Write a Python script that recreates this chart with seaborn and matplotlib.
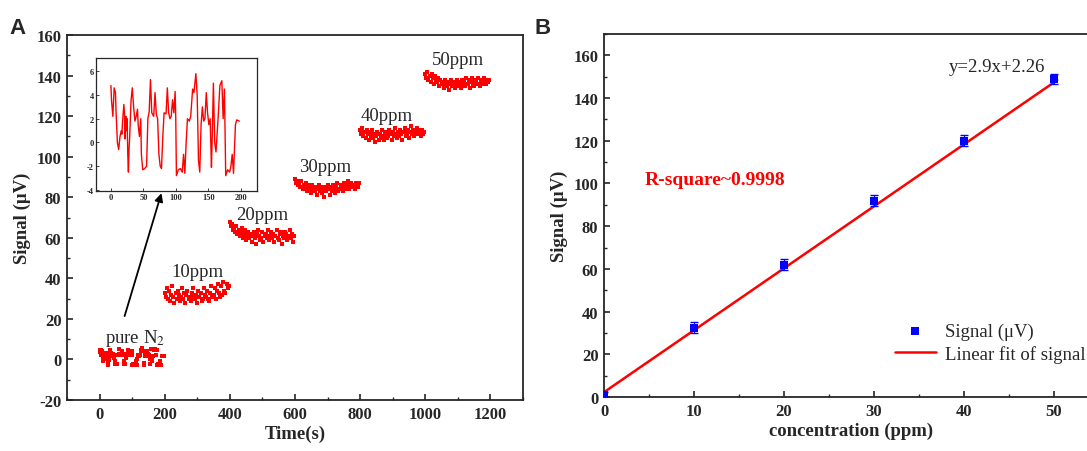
import numpy as np
import pandas as pd
import matplotlib
matplotlib.use('Agg')
import matplotlib.pyplot as plt
import seaborn as sns

# pure N2 trace
n2_time = [0, 1, 3, 5, 7, 8, 10, 12, 14, 16, 17, 18, 20, 21, 22, 23, 24, 25, 26, 27,
           28, 29, 31, 33, 35, 37, 39, 41, 42, 44, 46, 47, 49, 52, 55, 57, 59, 61, 63, 66,
           68, 70, 72, 74, 76, 78, 80, 82, 85, 87, 89, 91, 93, 95, 97, 99, 100, 101, 104, 107,
           110, 112, 114, 116, 118, 121, 123, 126, 128, 131, 133, 135, 137, 139, 141, 143, 145, 147, 149, 151,
           153, 155, 156, 158, 160, 162, 165, 168, 171, 173, 175, 177, 180, 183, 185, 187, 189, 192, 194, 198]
n2_signal = [4.8, 3.5, 2.2, 4.6, 4.2, 2.5, 0.0, -0.6, 0.5, 1.0, 0.7, 1.8, 3.2, 2.4, 0.3, 2.2, 1.0, 2.0, -1.0, -2.5,
             -0.5, 0.5, 3.5, 4.6, 3.0, 1.8, 2.2, 2.8, 1.5, 0.5, 2.0, -1.0, -2.3, -2.2, -2.0, 2.0, 2.6, 5.3, 2.5, 2.2,
             4.2, 2.4, 2.0, -1.0, -2.0, -2.2, 0.5, 2.5, 2.4, 4.6, 2.5, 2.0, 2.2, 3.6, 2.5, 4.3, 2.0, -2.8, -2.3, -2.2,
             -2.5, -1.0, -2.6, 0.0, 2.0, 1.8, 2.2, 4.5, 4.2, 5.8, 4.0, -1.5, -2.5, 1.5, 3.0, 1.8, 2.0, 4.2, 2.5, 1.5,
             2.0, -2.1, 0.0, 5.0, 0.0, -0.8, 1.8, 4.8, 5.2, 2.0, 4.5, -2.8, -2.3, -2.5, -2.0, -1.0, -2.6, 1.5, 1.9, 1.8]

seg_10 = [33, 31, 35, 30, 34, 29, 32, 36, 31, 28, 33, 30, 34, 32, 29, 31, 35, 30, 33, 28,
          32, 34, 30, 31, 29, 33, 35, 31, 30, 32, 28, 34, 31, 33, 29, 30, 35, 32, 31, 34,
          30, 29, 33, 36, 31, 32, 35, 30, 34, 37, 33, 31, 36, 32, 38, 34, 33, 37, 35, 36]
seg_20 = [68, 66, 67, 64, 65, 63, 66, 62, 64, 61, 63, 65, 60, 62, 64, 59, 61, 63, 60, 62,
          58, 61, 63, 60, 57, 62, 64, 61, 59, 60, 63, 58, 61, 62, 60, 64, 59, 61, 63, 60,
          62, 58, 61, 64, 60, 59, 62, 63, 57, 61, 60, 63, 62, 59, 61, 64, 60, 62, 58, 61]
seg_30 = [89, 87, 88, 86, 87, 85, 88, 84, 86, 85, 87, 83, 86, 84, 85, 82, 86, 84, 83, 85,
          81, 84, 86, 83, 85, 82, 84, 80, 85, 83, 86, 84, 81, 85, 83, 86, 84, 82, 85, 87,
          83, 84, 86, 85, 83, 87, 84, 86, 85, 88, 84, 86, 87, 85, 86, 84, 87, 86, 85, 87]
seg_40 = [113, 111, 114, 110, 112, 109, 113, 111, 108, 112, 110, 113, 109, 111, 107, 110, 112, 108, 111, 109,
          113, 110, 108, 111, 112, 109, 110, 113, 111, 108, 112, 110, 114, 111, 109, 112, 110, 113, 111, 108,
          112, 114, 110, 111, 113, 109, 112, 115, 111, 113, 110, 112, 114, 111, 113, 112, 110, 113, 111, 112]
seg_50 = [141, 139, 142, 138, 140, 137, 141, 139, 136, 140, 138, 137, 139, 135, 138, 136, 137, 134, 138, 136,
          135, 137, 133, 136, 138, 135, 137, 134, 136, 138, 135, 137, 136, 134, 138, 136, 137, 135, 139, 136,
          138, 134, 137, 139, 136, 135, 138, 137, 136, 139, 135, 137, 138, 136, 139, 137, 136, 138, 137, 138]
seg_starts = [200, 400, 600, 800, 1000]

seg_labels = ['pure N$_2$', '10ppm', '20ppm', '30ppm', '40ppm', '50ppm']
label_x = [108, 300, 500, 692, 883, 1100]
label_y = [8.6, 41, 69.5, 93, 118, 145.5]

# panel B
conc = [0, 10, 20, 30, 40, 50]
signal_mean = [1.0, 32.5, 62.0, 92.0, 120.0, 149.0]
signal_err = [1.5, 2.5, 2.5, 2.5, 2.5, 2.5]
fit_slope, fit_icpt = 2.9, 2.26

frames = [pd.DataFrame({'t': n2_time, 's': n2_signal})]
for start, vals in zip(seg_starts, [seg_10, seg_20, seg_30, seg_40, seg_50]):
    tt = start + np.arange(len(vals)) * 200 / len(vals)
    frames.append(pd.DataFrame({'t': tt, 's': vals}))
dfA = pd.concat(frames, ignore_index=True)

sns.set_theme(style='ticks')
plt.rcParams['font.family'] = ['Liberation Serif', 'DejaVu Serif']
plt.rcParams['mathtext.fontset'] = 'stix'
plt.rcParams['axes.unicode_minus'] = False
plt.rcParams['xtick.direction'] = 'in'
plt.rcParams['ytick.direction'] = 'in'

fig = plt.figure(figsize=(10.87, 4.52), dpi=100)
axA = fig.add_axes([0.0616, 0.1128, 0.4195, 0.8075])
axB = fig.add_axes([0.5557, 0.1195, 0.455, 0.803])

# ---- A
sns.scatterplot(data=dfA, x='t', y='s', ax=axA, color='red', marker='s', s=8, linewidth=0)
axA.set_xlim(-100, 1300)
axA.set_ylim(-20, 160)
axA.set_xticks(range(0, 1201, 200))
axA.set_xticks(range(-100, 1301, 100), minor=True)
axA.set_yticks(range(-20, 161, 20))
axA.set_yticks(range(-20, 161, 10), minor=True)
axA.set_xlabel('Time(s)', fontsize=13.5, fontweight='bold', labelpad=2)
axA.set_ylabel('Signal (\u03bcV)', fontsize=13.5, fontweight='bold', labelpad=4)
for lb, x, y in zip(seg_labels, label_x, label_y):
    axA.text(x, y, lb, fontsize=13.5, ha='center', va='baseline')
axA.annotate('', xy=(190, 82), xytext=(77, 21.4),
             arrowprops=dict(arrowstyle='-|>', color='black', lw=1.3, mutation_scale=12,
                             shrinkA=0, shrinkB=0))

ins = fig.add_axes([0.0883, 0.575, 0.148, 0.294])
sns.lineplot(x=n2_time, y=n2_signal, ax=ins, color='red', lw=1)
ins.set_xlim(-23, 225)
ins.set_ylim(-4.1, 7.1)
ins.set_xticks([0, 50, 100, 150, 200])
ins.set_yticks([-4, -2, 0, 2, 4, 6])
ins.tick_params(labelsize=6, length=2, width=0.6, pad=1.5)
for lab in ins.get_xticklabels() + ins.get_yticklabels():
    lab.set_fontweight('bold')
for sp in ins.spines.values():
    sp.set_linewidth(0.9)

# ---- B
fit_x = np.array([0, 50.4])
sns.lineplot(x=fit_x, y=fit_slope * fit_x + fit_icpt, ax=axB, color='red', lw=1.8,
             label='Linear fit of signal')
axB.errorbar(conc, signal_mean, yerr=signal_err, fmt='none', ecolor='blue', elinewidth=0.8, capsize=3)
sns.scatterplot(x=conc, y=signal_mean, ax=axB, color='blue', marker='s', s=32, linewidth=0,
                label='Signal (\u03bcV)', zorder=5)
axB.set_xlim(0, 55)
axB.set_ylim(0, 170)
axB.set_xticks(range(0, 51, 10))
axB.set_xticks(range(0, 56, 5), minor=True)
axB.set_yticks(range(0, 161, 20))
axB.set_yticks(range(0, 171, 10), minor=True)
axB.set_xlabel('concentration (ppm)', fontsize=13.5, fontweight='bold', labelpad=2)
axB.set_ylabel('Signal (\u03bcV)', fontsize=13.5, fontweight='bold', labelpad=4)
axB.text(4.5, 102, 'R-square~0.9998', color='red', fontsize=14, fontweight='bold', va='center')
axB.text(38.3, 155, 'y=2.9x+2.26', fontsize=13.5, va='center')
h, l = axB.get_legend_handles_labels()
axB.legend(h[::-1], l[::-1], loc='lower right', bbox_to_anchor=(0.999, 0.195),
           bbox_transform=fig.transFigure, frameon=False,
           fontsize=13.5, handlelength=2.2, borderaxespad=0, borderpad=0, labelspacing=0.25,
           handletextpad=0.5)

for ax in (axA, axB):
    ax.tick_params(which='major', length=4, width=1.2, labelsize=12, pad=4)
    ax.tick_params(which='minor', length=2, width=1)
    for lab in ax.get_xticklabels() + ax.get_yticklabels():
        lab.set_fontweight('bold')
    for sp in ax.spines.values():
        sp.set_linewidth(1.3)
        sp.set_visible(True)

fig.text(0.009, 0.925, 'A', fontsize=16, fontweight='bold', family='Liberation Sans')
fig.text(0.492, 0.925, 'B', fontsize=16, fontweight='bold', family='Liberation Sans')

fig.savefig('out.png', dpi=100)
